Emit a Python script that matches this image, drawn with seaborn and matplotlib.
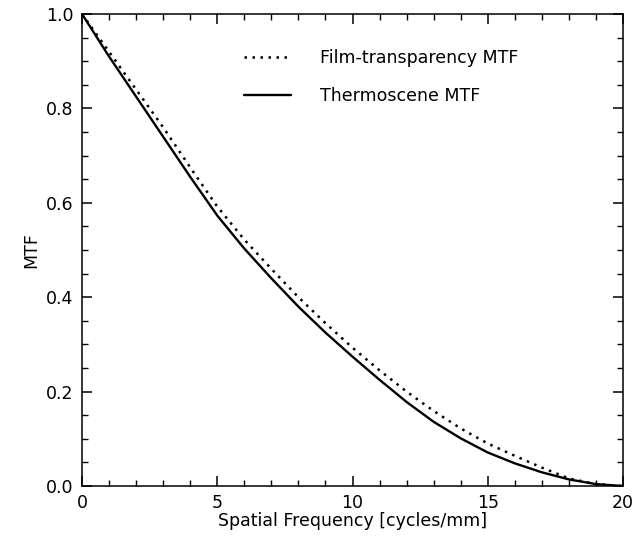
import numpy as np
import pandas as pd
import matplotlib
matplotlib.use("Agg")
import matplotlib.pyplot as plt
from matplotlib.ticker import MultipleLocator
import seaborn as sns

# values
freq = [0, 1, 2, 3, 4, 5, 6, 7, 8, 9, 10, 11, 12, 13, 14, 15, 16, 17, 18, 19, 20]
film_mtf = [1.0, 0.92, 0.84, 0.76, 0.675, 0.592, 0.522, 0.46, 0.40, 0.345, 0.293,
            0.245, 0.200, 0.159, 0.122, 0.090, 0.064, 0.039, 0.016, 0.004, 0.0]
thermo_mtf = [1.0, 0.91, 0.825, 0.74, 0.655, 0.573, 0.503, 0.44, 0.38, 0.325, 0.274,
              0.225, 0.178, 0.136, 0.101, 0.071, 0.048, 0.029, 0.014, 0.004, 0.0]
labels = ["Film-transparency MTF", "Thermoscene MTF"]

df = pd.DataFrame({"freq": freq, "film": film_mtf, "thermo": thermo_mtf})

sns.set_theme(style="ticks")
plt.rcParams["font.family"] = ["DejaVu Sans"]
plt.rcParams["axes.linewidth"] = 1.1
plt.rcParams["text.color"] = "black"
plt.rcParams["axes.labelcolor"] = "black"

fs = 12.5

fig = plt.figure(figsize=(6.44, 5.41), dpi=100)
ax = fig.add_axes([82 / 644, 55 / 541, 541 / 644, 472 / 541])

sns.lineplot(data=df, x="freq", y="film", ax=ax, color="black",
             linewidth=1.8, linestyle=(0, (1, 2.2)), label=labels[0])
sns.lineplot(data=df, x="freq", y="thermo", ax=ax, color="black",
             linewidth=1.7, linestyle="-", label=labels[1])

ax.set_xlim(0, 20)
ax.set_ylim(0, 1)
ax.xaxis.set_major_locator(MultipleLocator(5))
ax.xaxis.set_minor_locator(MultipleLocator(1))
ax.yaxis.set_major_locator(MultipleLocator(0.2))
ax.yaxis.set_minor_locator(MultipleLocator(0.05))
ax.yaxis.set_major_formatter(matplotlib.ticker.FormatStrFormatter("%.1f"))
ax.tick_params(which="both", direction="in", top=True, right=True,
               colors="black", labelsize=fs)
ax.tick_params(which="major", length=7, width=1.1, pad=6)
ax.tick_params(which="minor", length=4, width=1.0)
for s in ax.spines.values():
    s.set_color("black")

ax.set_xlabel("Spatial Frequency [cycles/mm]", fontsize=fs, labelpad=0)
ax.set_ylabel("MTF", fontsize=fs, labelpad=4)

ax.legend(loc="upper left", bbox_to_anchor=(0.27, 0.958), frameon=False,
          fontsize=fs, handlelength=2.7, handletextpad=1.7, labelspacing=1.15)

fig.savefig("out.png", dpi=100)
